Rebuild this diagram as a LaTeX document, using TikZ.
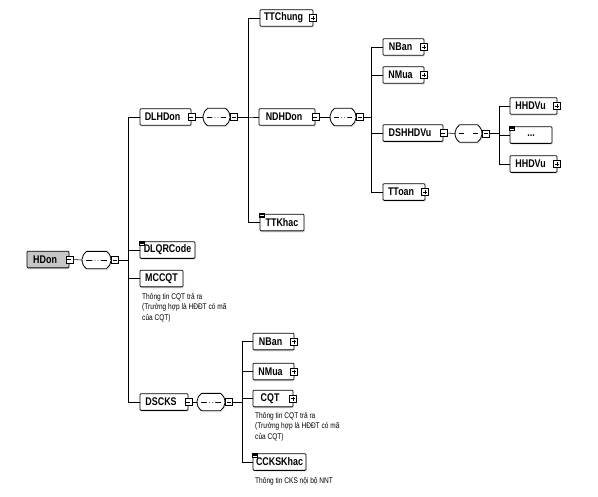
\documentclass[tikz,border=0pt]{standalone}
\usepackage{fontspec}
\setmainfont{Liberation Sans}
\newfontfamily\lblfont[FakeStretch=0.8]{Liberation Sans}
\newfontfamily\notefont[FakeStretch=0.8]{Liberation Sans}
\usetikzlibrary{shapes.misc,shadows}

\tikzset{
bw/.style={minimum width=#1*0.3mm},
conn/.style={line width=0.5pt},
elem/.style={draw,line width=0.7pt,rounded corners=0.8pt,fill=white,minimum height=5mm,inner sep=0pt,
  font=\fontsize{9.5}{10}\selectfont\lblfont\bfseries,
  drop shadow={shadow xshift=0.3mm,shadow yshift=-0.5mm,fill=gray!30}},
withtog/.style={elem,execute at end node={\hspace{5pt}}},
minusbox/.style={draw,line width=0.5pt,fill=white,minimum size=2.1mm,inner sep=0pt,
  path picture={\draw[line width=0.4pt]([xshift=-0.6mm]path picture bounding box.center)--([xshift=0.6mm]path picture bounding box.center);}},
plusbox/.style={minusbox,
  path picture={\draw[line width=0.4pt]([xshift=-0.6mm]path picture bounding box.center)--([xshift=0.6mm]path picture bounding box.center)
  ([yshift=-0.6mm]path picture bounding box.center)--([yshift=0.6mm]path picture bounding box.center);}},
docicon/.style={draw,line width=0.3pt,fill=white,minimum width=1.6mm,minimum height=1.2mm,inner sep=0pt,
  path picture={\foreach \k in {-0.2,0.25}\draw[line width=0.25pt]([xshift=-0.5mm,yshift=\k mm]path picture bounding box.center)--([xshift=0.5mm,yshift=\k mm]path picture bounding box.center);}},
seq/.style={rounded rectangle,rounded rectangle arc length=110,draw,line width=0.7pt,fill=white,
  minimum height=5.2mm,inner sep=0pt,drop shadow={shadow xshift=0.3mm,shadow yshift=-0.5mm,fill=gray!30},
  path picture={\draw[line width=0.6pt]([xshift=1.4mm]path picture bounding box.west)--([xshift=-1.4mm]path picture bounding box.east);
  \foreach \d in {-1,0,1}\fill([xshift=\d*0.9mm]path picture bounding box.center)circle(0.5mm);}},
note/.style={anchor=north west,align=left,inner sep=0pt,font=\fontsize{7}{9}\selectfont\notefont}
}

\begin{document}
\begin{tikzpicture}[x=0.03cm,y=-0.03cm]
\useasboundingbox (0,0) rectangle (598,496);
\node[withtog,bw=42,fill=gray!45] (HDon) at (48,259.5) {HDon};
\node[seq,bw=29] (s1) at (96.5,260) {};
\node[withtog,bw=51] (DLHDon) at (165.5,117) {DLHDon};
\node[elem,bw=55] (DLQRCode) at (167.5,250) {DLQRCode};
\node[elem,bw=43] (MCCQT) at (161.5,278.5) {MCCQT};
\node[withtog,bw=48] (DSCKS) at (164,402) {DSCKS};
\node[seq,bw=27] (s2) at (216.5,117) {};
\node[withtog,bw=53] (TTChung) at (286.5,18) {TTChung};
\node[withtog,bw=56] (NDHDon) at (287,117) {NDHDon};
\node[elem,bw=44] (TTKhac) at (282,222.5) {TTKhac};
\node[seq,bw=26] (s3) at (343,117) {};
\node[withtog,bw=41] (NBan) at (403.5,47) {NBan};
\node[withtog,bw=41] (NMua) at (403.5,75) {NMua};
\node[withtog,bw=60] (DSHHDVu) at (413,133) {DSHHDVu};
\node[withtog,bw=42] (TToan) at (404,192) {TToan};
\node[seq,bw=27] (s4) at (468.5,133.5) {};
\node[withtog,bw=47] (HHDVuA) at (533.5,106) {HHDVu};
\node[elem,bw=42] (AnyA) at (531,135) {\raisebox{-3pt}{...}\hspace{16pt}};
\node[withtog,bw=47] (HHDVuB) at (533.5,164) {HHDVu};
\node[seq,bw=28] (s5) at (211,402) {};
\node[withtog,bw=41] (NBanB) at (273.5,341.5) {NBan};
\node[withtog,bw=41] (NMuaB) at (273.5,371.5) {NMua};
\node[withtog,bw=40] (CQT) at (273,398.5) {CQT};
\node[elem,bw=53] (CCKSKhac) at (279.5,462) {CCKSKhac};
\node[note] (nMCCQT) at (142,293) {Thông tin CQT trả ra\\(Trường hợp là HĐĐT có mã\\của CQT)};
\node[note] (nCQT) at (255,412) {Thông tin CQT trả ra\\(Trường hợp là HĐĐT có mã\\của CQT)};
\node[note] (nCCKS) at (255,477) {Thông tin CKS nội bộ NNT};
\foreach \n in {HDon,DLHDon,NDHDon,DSHHDVu,DSCKS}
  \node[minusbox] (t\n) at (\n.east) {};
\foreach \n in {TTChung,NBan,NMua,TToan,HHDVuA,HHDVuB,NBanB,NMuaB,CQT}
  \node[plusbox] (t\n) at ([xshift=-0.5pt]\n.east) {};
\foreach \n in {DLQRCode,TTKhac,AnyA,CCKSKhac}
  \node[docicon] (d\n) at ([xshift=0.7mm,yshift=-0.5mm]\n.north west) {};
\foreach \s in {1,...,5}
  \node[minusbox,anchor=west] (q\s) at (s\s.east) {};
\foreach \a/\s in {HDon/1,DLHDon/2,NDHDon/3,DSHHDVu/4,DSCKS/5}
  \draw[conn] (t\a.east) -- (s\s.west);
\foreach \c in {DLHDon,DLQRCode,MCCQT,DSCKS}
  \draw[conn] (q1.east) -- ++(9,0) |- (\c.west);
\foreach \c in {TTChung,NDHDon,TTKhac}
  \draw[conn] (q2.east) -- ++(10,0) |- (\c.west);
\foreach \c in {NBan,NMua,DSHHDVu,TToan}
  \draw[conn] (q3.east) -- ++(7,0) |- (\c.west);
\foreach \c in {HHDVuA,AnyA,HHDVuB}
  \draw[conn] (q4.east) -- ++(9,0) |- (\c.west);
\foreach \c in {NBanB,NMuaB,CQT,CCKSKhac}
  \draw[conn] (q5.east) -- ++(9,0) |- (\c.west);
\end{tikzpicture}
\end{document}
